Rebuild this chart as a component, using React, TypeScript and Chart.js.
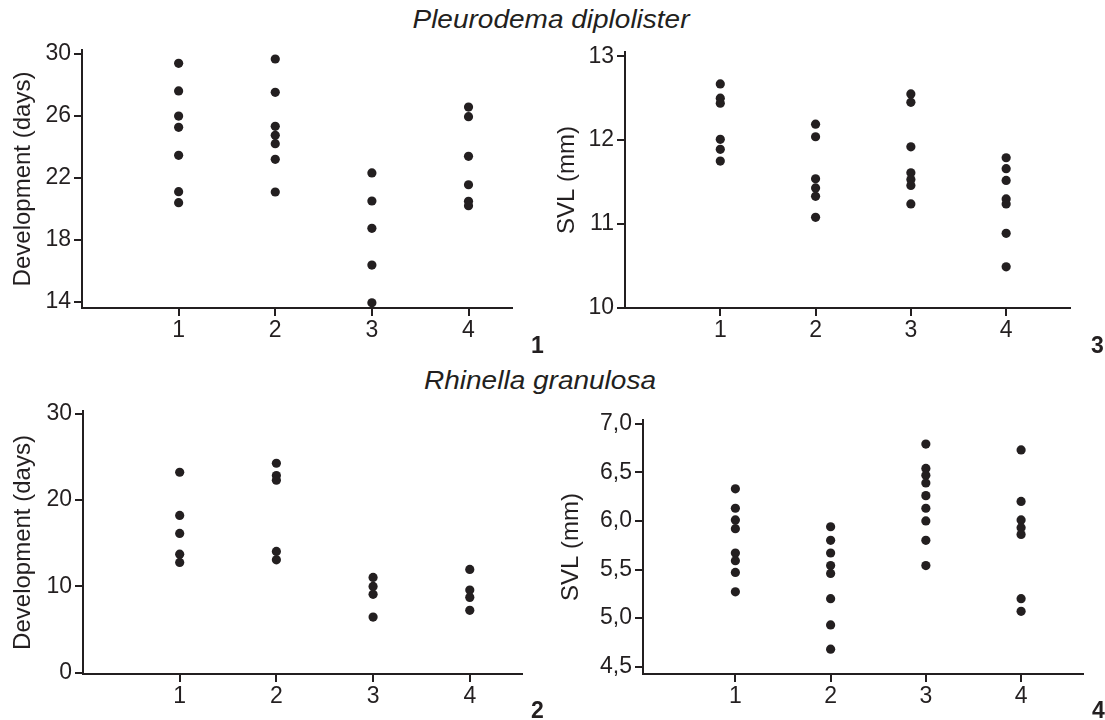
import React, { useEffect, useRef } from 'react';
import { Chart, registerables } from 'chart.js';

Chart.register(...registerables);

// ---------------- DATA ----------------
const categories = [1, 2, 3, 4];
const categoryLabels = ['1', '2', '3', '4'];

// Pleurodema diplolister — Development (days)
const pdDev1 = [29.39, 27.61, 25.99, 25.26, 23.46, 21.11, 20.4];
const pdDev2 = [29.67, 27.52, 25.33, 24.75, 24.21, 23.2, 21.09];
const pdDev3 = [22.32, 20.51, 18.75, 16.38, 13.95];
const pdDev4 = [26.57, 25.95, 23.39, 21.56, 20.49, 20.21];

// Pleurodema diplolister — SVL (mm)
const pdSvl1 = [12.67, 12.5, 12.44, 12.01, 11.89, 11.75];
const pdSvl2 = [12.19, 12.04, 11.54, 11.43, 11.33, 11.08];
const pdSvl3 = [12.55, 12.45, 11.92, 11.61, 11.53, 11.46, 11.24];
const pdSvl4 = [11.79, 11.66, 11.52, 11.3, 11.24, 10.89, 10.49];

// Rhinella granulosa — Development (days)
const rgDev1 = [23.21, 18.21, 16.13, 13.74, 12.78];
const rgDev2 = [24.25, 22.83, 22.29, 14.05, 13.08];
const rgDev3 = [11.05, 10.01, 9.09, 6.46];
const rgDev4 = [11.97, 9.58, 8.74, 7.24];

// Rhinella granulosa — SVL (mm)
const rgSvl1 = [6.33, 6.13, 6.01, 5.92, 5.67, 5.59, 5.47, 5.27];
const rgSvl2 = [5.94, 5.8, 5.67, 5.54, 5.46, 5.2, 4.93, 4.68];
const rgSvl3 = [6.79, 6.54, 6.47, 6.39, 6.26, 6.13, 6.0, 5.8, 5.54];
const rgSvl4 = [6.73, 6.2, 6.01, 5.93, 5.86, 5.2, 5.07];

// Tick values / labels
const pdDevTicks = [14, 18, 22, 26, 30];
const pdDevTickLabels = ['14', '18', '22', '26', '30'];
const pdSvlTicks = [10, 11, 12, 13];
const pdSvlTickLabels = ['10', '11', '12', '13'];
const rgDevTicks = [0, 10, 20, 30];
const rgDevTickLabels = ['0', '10', '20', '30'];
const rgSvlTicks = [4.5, 5.0, 5.5, 6.0, 6.5, 7.0];
const rgSvlTickLabels = ['4,5', '5,0', '5,5', '6,0', '6,5', '7,0'];

const speciesTitles = ['Pleurodema diplolister', 'Rhinella granulosa'];
const panelNumbers = ['1', '2', '3', '4'];
const yTitleDev = 'Development (days)';
const yTitleSvl = 'SVL (mm)';

// ---------------- STYLE ----------------
const INK = '#231f20';
const FONT = '"Liberation Sans", Arial, Helvetica, sans-serif';

type PanelProps = {
  x: number; y: number; w: number; h: number;
  pad: { left: number; top: number; right: number; bottom: number };
  yWidth: number; xHeight: number;
  groups: number[][];
  yTicks: number[]; yLabels: string[];
  yMin: number; yMax: number; xMin: number; xMax: number;
  yTitle: string;
};

function Panel(p: PanelProps) {
  const ref = useRef<HTMLCanvasElement>(null);
  useEffect(() => {
    if (!ref.current) return;
    const points = p.groups.flatMap((vals, i) => vals.map((v) => ({ x: categories[i], y: v })));
    const chart = new Chart(ref.current, {
      type: 'scatter',
      data: {
        datasets: [
          {
            data: points,
            pointRadius: 4.6,
            pointHoverRadius: 4.6,
            pointBackgroundColor: INK,
            pointBorderWidth: 0,
            clip: false as any,
          },
        ],
      },
      options: {
        animation: false,
        responsive: false,
        events: [],
        layout: { padding: p.pad },
        plugins: { legend: { display: false }, tooltip: { enabled: false }, title: { display: false } },
        scales: {
          x: {
            type: 'linear',
            min: p.xMin,
            max: p.xMax,
            afterBuildTicks: (s: any) => {
              s.ticks = categories.map((v) => ({ value: v }));
            },
            afterFit: (s: any) => {
              s.height = p.xHeight;
              s.paddingLeft = 0;
              s.paddingRight = 0;
            },
            ticks: {
              autoSkip: false,
              maxRotation: 0,
              minRotation: 0,
              padding: 1,
              color: INK,
              font: { family: FONT, size: 23 },
              callback: (_v: any, i: number) => categoryLabels[i],
            },
            grid: { display: true, drawOnChartArea: false, drawTicks: true, tickLength: 8, lineWidth: 2, color: INK },
            border: { display: true, width: 2, color: INK },
          },
          y: {
            type: 'linear',
            min: p.yMin,
            max: p.yMax,
            afterBuildTicks: (s: any) => {
              s.ticks = p.yTicks.map((v) => ({ value: v }));
            },
            afterFit: (s: any) => {
              s.width = p.yWidth;
              s.paddingTop = 0;
              s.paddingBottom = 0;
            },
            ticks: {
              autoSkip: false,
              padding: 3,
              color: INK,
              font: { family: FONT, size: 23 },
              callback: (_v: any, i: number) => p.yLabels[i],
            },
            title: {
              display: true,
              text: p.yTitle,
              padding: 0,
              color: INK,
              font: { family: FONT, size: 24 },
            },
            grid: { display: true, drawOnChartArea: false, drawTicks: true, tickLength: 8, lineWidth: 2, color: INK },
            border: { display: true, width: 2, color: INK },
          },
        },
      } as any,
    });
    return () => chart.destroy();
  }, []);
  return (
    <canvas
      ref={ref}
      width={p.w}
      height={p.h}
      style={{ position: 'absolute', left: p.x, top: p.y, width: p.w, height: p.h }}
    />
  );
}

const titleStyle = (cx: number, top: number): React.CSSProperties => ({
  position: 'absolute',
  left: cx - 300,
  top,
  width: 600,
  textAlign: 'center',
  fontFamily: FONT,
  fontStyle: 'italic',
  fontSize: 25,
  lineHeight: '25px',
  color: INK,
  transform: 'scaleX(1.12)',
  whiteSpace: 'nowrap',
});

const numStyle = (left: number, top: number): React.CSSProperties => ({
  position: 'absolute',
  left,
  top,
  fontFamily: FONT,
  fontWeight: 'bold',
  fontSize: 23,
  lineHeight: '23px',
  color: INK,
});

export default function App() {
  return (
    <div style={{ position: 'absolute', left: 0, top: 0, width: 1105, height: 720, background: '#fff', overflow: 'hidden' }}>
      <div style={titleStyle(551, 7)}>{speciesTitles[0]}</div>
      <div style={titleStyle(540, 368)}>{speciesTitles[1]}</div>

      <Panel
        x={0} y={40} w={540} h={310}
        pad={{ left: 9, top: 10, right: 28, bottom: 2 }}
        yWidth={73} xHeight={40}
        groups={[pdDev1, pdDev2, pdDev3, pdDev4]}
        yTicks={pdDevTicks} yLabels={pdDevTickLabels}
        yMin={13.61} yMax={30.25} xMin={0} xMax={4.45}
        yTitle={yTitleDev}
      />
      <Panel
        x={540} y={40} w={565} h={310}
        pad={{ left: 13, top: 12, right: 35, bottom: 2 }}
        yWidth={72} xHeight={40}
        groups={[pdSvl1, pdSvl2, pdSvl3, pdSvl4]}
        yTicks={pdSvlTicks} yLabels={pdSvlTickLabels}
        yMin={10.0} yMax={13.05} xMin={0} xMax={4.67}
        yTitle={yTitleSvl}
      />
      <Panel
        x={0} y={390} w={540} h={330}
        pad={{ left: 9, top: 21, right: 18, bottom: 6 }}
        yWidth={74} xHeight={40}
        groups={[rgDev1, rgDev2, rgDev3, rgDev4]}
        yTicks={rgDevTicks} yLabels={rgDevTickLabels}
        yMin={-0.12} yMax={30.29} xMin={0} xMax={4.54}
        yTitle={yTitleDev}
      />
      <Panel
        x={540} y={390} w={565} h={330}
        pad={{ left: 17, top: 30, right: 22, bottom: 6 }}
        yWidth={86} xHeight={40}
        groups={[rgSvl1, rgSvl2, rgSvl3, rgSvl4]}
        yTicks={rgSvlTicks} yLabels={rgSvlTickLabels}
        yMin={4.425} yMax={7.038} xMin={0.03} xMax={4.65}
        yTitle={yTitleSvl}
      />

      <div style={numStyle(531, 334)}>{panelNumbers[0]}</div>
      <div style={numStyle(1091, 334)}>{panelNumbers[2]}</div>
      <div style={numStyle(531, 699)}>{panelNumbers[1]}</div>
      <div style={numStyle(1092, 699)}>{panelNumbers[3]}</div>
    </div>
  );
}
